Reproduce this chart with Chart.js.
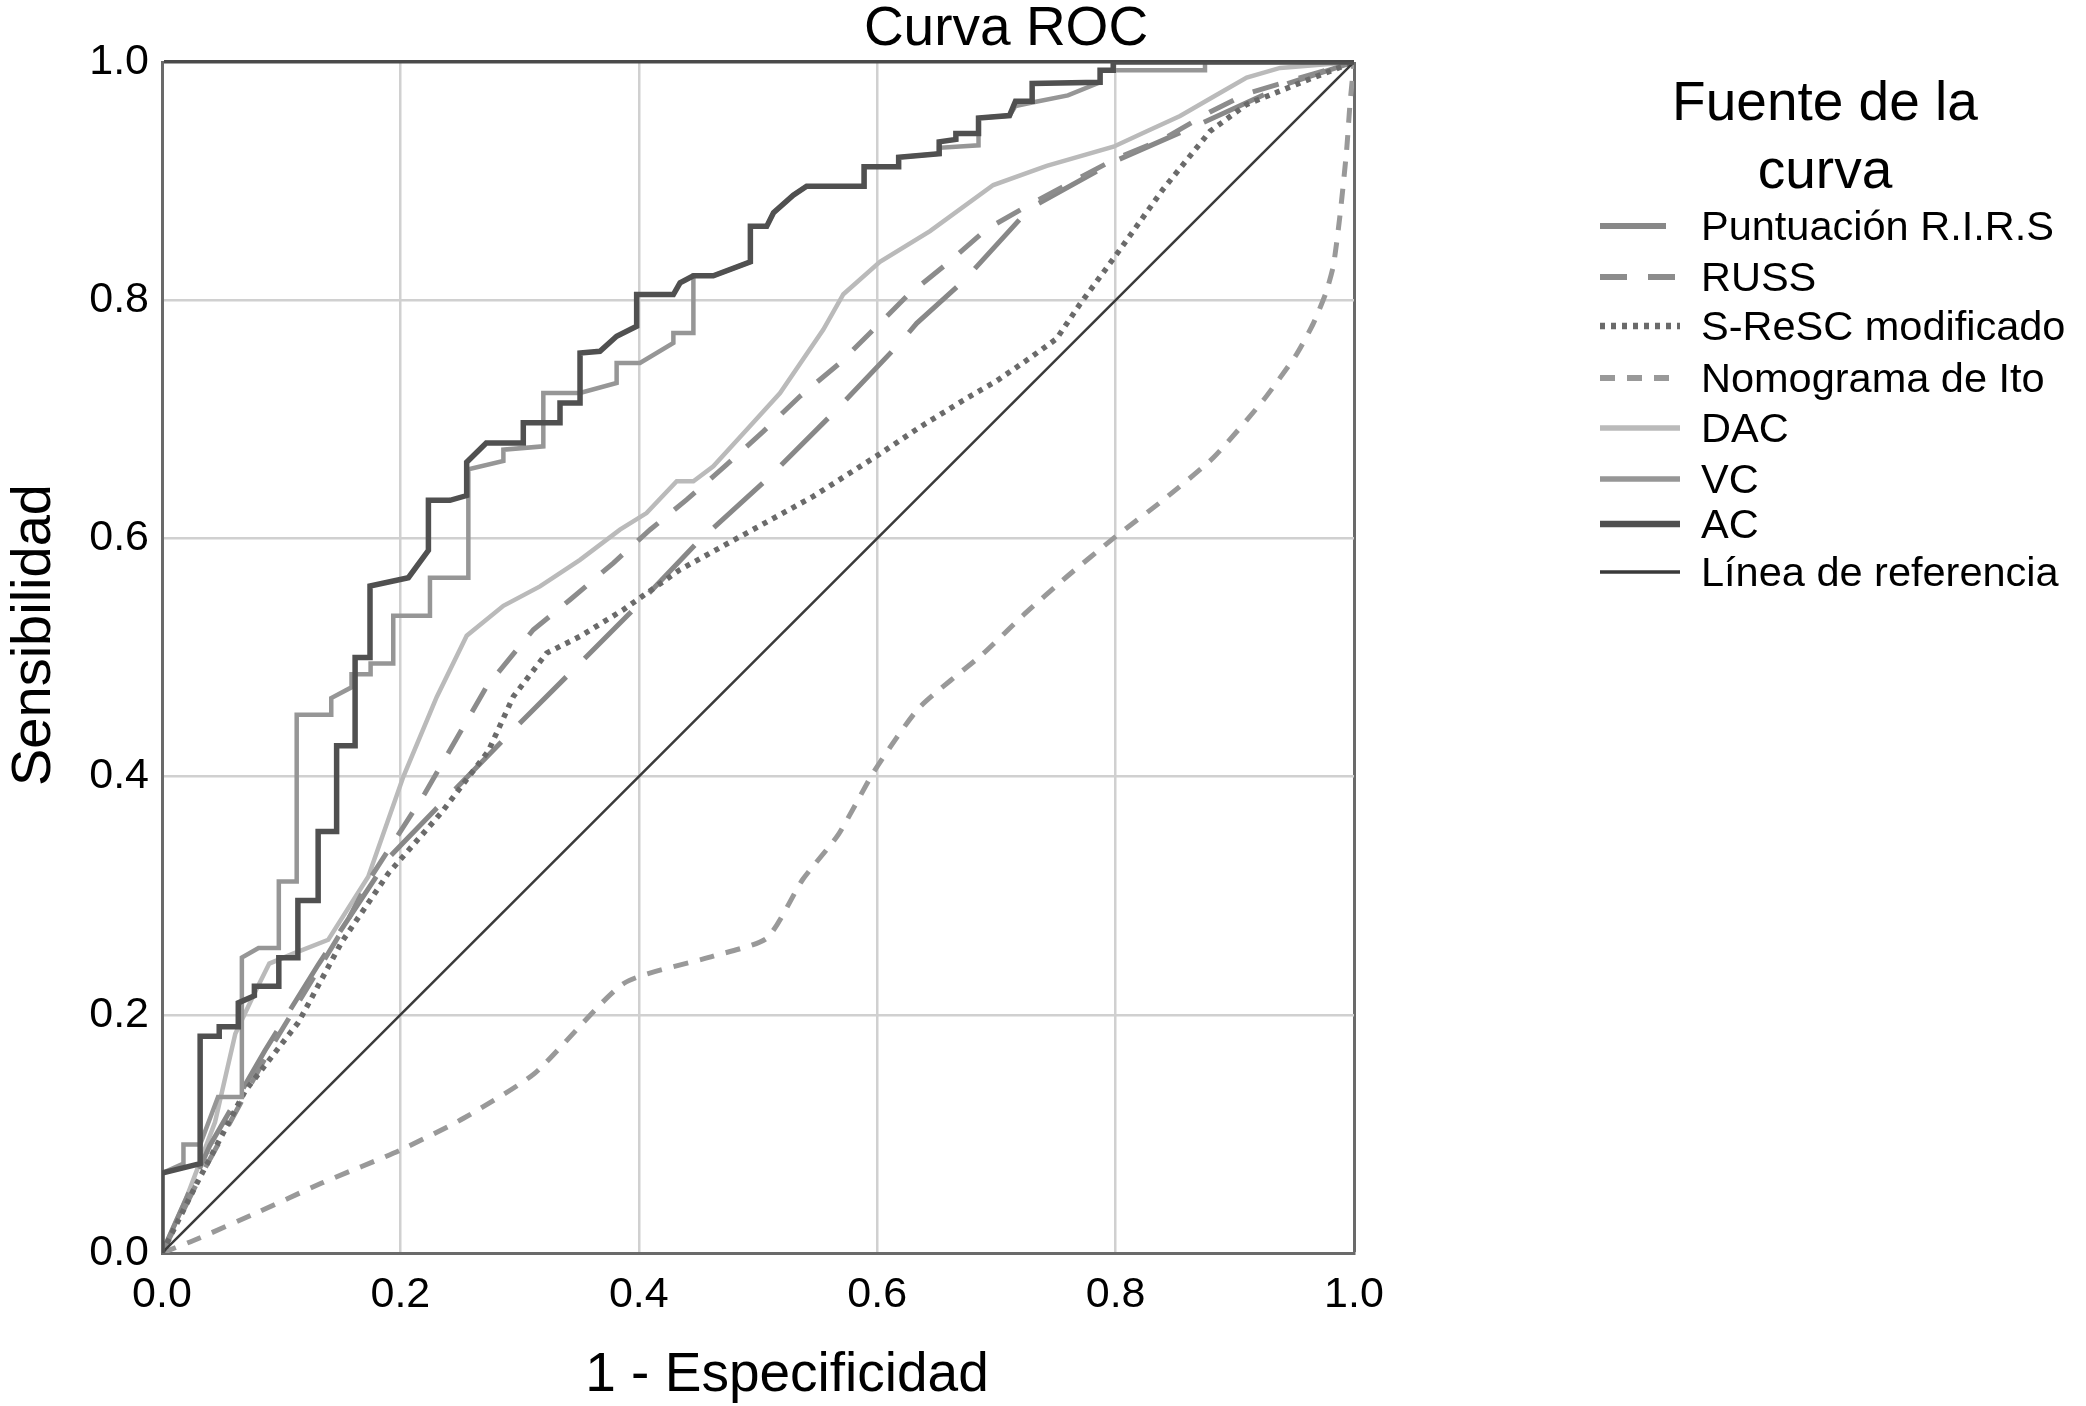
<!DOCTYPE html>
<html>
<head>
<meta charset="utf-8">
<title>Curva ROC</title>
<script src="https://cdn.jsdelivr.net/npm/chart.js@4.4.1/dist/chart.umd.min.js"></script>
<style>
  html, body { margin: 0; padding: 0; background: #fff; }
  #wrap { width: 2086px; height: 1406px; }
</style>
</head>
<body>
<div id="wrap"><canvas id="roc" width="2086" height="1406"></canvas></div>
<script>
// values (x = 1 - especificidad, y = sensibilidad)
const axisTicks = [0, 0.2, 0.4, 0.6, 0.8, 1.0];

const rirsX = [0, 0.04, 0.0864, 0.131, 0.19, 0.229, 0.2975, 0.3395, 0.3926, 0.4486, 0.5072, 0.5632, 0.6191, 0.6331, 0.6723, 0.7282, 0.80, 0.8708, 0.945, 1];
const rirsY = [0, 0.09, 0.17, 0.242, 0.3316, 0.372, 0.4421, 0.4841, 0.5373, 0.5961, 0.6493, 0.7053, 0.7641, 0.7806, 0.816, 0.8773, 0.917, 0.948, 0.982, 1];

const russX = [0, 0.03, 0.09, 0.153, 0.173, 0.2206, 0.2724, 0.3115, 0.3423, 0.3786, 0.4094, 0.4402, 0.4737, 0.5045, 0.5352, 0.5688, 0.594, 0.6247, 0.6583, 0.6918, 0.7282, 0.8009, 0.84, 0.8792, 0.9099, 0.966, 1];
const russY = [0, 0.06, 0.17, 0.274, 0.312, 0.386, 0.4757, 0.5233, 0.5485, 0.5793, 0.6073, 0.6325, 0.6619, 0.6899, 0.7193, 0.7473, 0.7725, 0.8032, 0.8305, 0.8596, 0.8805, 0.9193, 0.9353, 0.958, 0.9734, 0.99, 1];

const srescX = [0, 0.03, 0.0696, 0.1144, 0.1507, 0.1899, 0.2346, 0.2738, 0.2948, 0.3227, 0.3507, 0.387, 0.4345, 0.4905, 0.5464, 0.6023, 0.6359, 0.6723, 0.7002, 0.7282, 0.7505, 0.7701, 0.8009, 0.84, 0.8792, 0.9099, 0.9659, 1];
const srescY = [0, 0.06, 0.1358, 0.1936, 0.261, 0.3188, 0.37, 0.4215, 0.4673, 0.5037, 0.5177, 0.5401, 0.5737, 0.6045, 0.6353, 0.671, 0.6935, 0.716, 0.7322, 0.7515, 0.7677, 0.7967, 0.8386, 0.8934, 0.9418, 0.9644, 0.9869, 1];

const itoX = [0, 0.03, 0.08, 0.134, 0.2, 0.2526, 0.3126, 0.3876, 0.4625, 0.5075, 0.5375, 0.5675, 0.5975, 0.635, 0.689, 0.7225, 0.759, 0.7981, 0.84, 0.8819, 0.9239, 0.9519, 0.9659, 0.9765, 0.9827, 0.9882, 0.9938, 0.9966, 1];
const itoY = [0, 0.012, 0.034, 0.0587, 0.0864, 0.1129, 0.1508, 0.2265, 0.2492, 0.2644, 0.3136, 0.3515, 0.4045, 0.4576, 0.5033, 0.5355, 0.5678, 0.6, 0.6323, 0.6677, 0.716, 0.7548, 0.7806, 0.8064, 0.829, 0.8709, 0.9257, 0.9644, 1];

const dacX = [0, 0.02, 0.0445, 0.0615, 0.078, 0.09, 0.109, 0.1395, 0.173, 0.2025, 0.2304, 0.2556, 0.2864, 0.3171, 0.3507, 0.3842, 0.4065, 0.4318, 0.4458, 0.4625, 0.4905, 0.5185, 0.5548, 0.5716, 0.6023, 0.6443, 0.6974, 0.7422, 0.7982, 0.8262, 0.8541, 0.882, 0.91, 0.938, 1];
const dacY = [0, 0.045, 0.11, 0.184, 0.219, 0.243, 0.251, 0.263, 0.316, 0.40, 0.4667, 0.5183, 0.5434, 0.5597, 0.582, 0.6073, 0.6213, 0.648, 0.648, 0.6605, 0.6913, 0.7221, 0.7753, 0.805, 0.8322, 0.858, 0.8967, 0.9128, 0.9289, 0.9418, 0.9547, 0.9708, 0.987, 0.995, 1];

const vcX = [0, 0, 0.018, 0.018, 0.032, 0.047, 0.067, 0.067, 0.081, 0.098, 0.098, 0.113, 0.113, 0.142, 0.142, 0.159, 0.159, 0.175, 0.175, 0.194, 0.194, 0.2248, 0.2248, 0.257, 0.257, 0.2864, 0.2864, 0.3199, 0.3199, 0.3507, 0.3814, 0.3814, 0.401, 0.429, 0.429, 0.4458, 0.4458, 0.4625, 0.4936, 0.4936, 0.5073, 0.513, 0.5296, 0.5408, 0.589, 0.589, 0.618, 0.618, 0.652, 0.652, 0.685, 0.685, 0.711, 0.716, 0.73, 0.76, 0.787, 0.787, 0.875, 0.875, 1];
const vcY = [0, 0.067, 0.075, 0.091, 0.091, 0.131, 0.131, 0.248, 0.256, 0.256, 0.312, 0.312, 0.452, 0.452, 0.466, 0.475, 0.486, 0.486, 0.495, 0.495, 0.535, 0.535, 0.567, 0.567, 0.658, 0.665, 0.6745, 0.6773, 0.7221, 0.7221, 0.7305, 0.7473, 0.7473, 0.7641, 0.7725, 0.7725, 0.8205, 0.8205, 0.8322, 0.862, 0.862, 0.8734, 0.8882, 0.8957, 0.8957, 0.912, 0.912, 0.92, 0.923, 0.928, 0.93, 0.953, 0.955, 0.963, 0.966, 0.972, 0.983, 0.993, 0.993, 1, 1];

const acX = [0, 0, 0.032, 0.032, 0.048, 0.048, 0.064, 0.064, 0.0775, 0.0775, 0.098, 0.098, 0.114, 0.114, 0.131, 0.131, 0.1465, 0.1465, 0.162, 0.162, 0.1745, 0.1745, 0.2067, 0.2235, 0.2235, 0.2416, 0.2556, 0.2556, 0.272, 0.3031, 0.3031, 0.3339, 0.3339, 0.3507, 0.3507, 0.3674, 0.3814, 0.3982, 0.3982, 0.429, 0.4346, 0.4458, 0.4625, 0.4936, 0.4936, 0.5073, 0.513, 0.5296, 0.5408, 0.589, 0.589, 0.618, 0.618, 0.652, 0.652, 0.666, 0.666, 0.685, 0.685, 0.711, 0.716, 0.73, 0.73, 0.787, 0.787, 0.798, 0.798, 1];
const acY = [0, 0.067, 0.075, 0.182, 0.182, 0.19, 0.19, 0.21, 0.216, 0.224, 0.224, 0.248, 0.248, 0.296, 0.296, 0.354, 0.354, 0.426, 0.426, 0.50, 0.50, 0.56, 0.567, 0.59, 0.632, 0.632, 0.636, 0.664, 0.68, 0.68, 0.697, 0.697, 0.7137, 0.7137, 0.7557, 0.7571, 0.7697, 0.7781, 0.8047, 0.8047, 0.8146, 0.8205, 0.8205, 0.8322, 0.862, 0.862, 0.8734, 0.8882, 0.8957, 0.8957, 0.912, 0.912, 0.92, 0.923, 0.933, 0.935, 0.94, 0.94, 0.953, 0.955, 0.967, 0.967, 0.982, 0.983, 0.993, 0.993, 1, 1];

const refX = [0, 1];
const refY = [0, 1];

const fontFam = '"Liberation Sans", Arial, Helvetica, sans-serif';

function pts(xs, ys) {
    return xs.map(function (x, i) { return { x: x, y: ys[i] }; });
}

// chart title, axis titles and side legend drawn on the canvas
var sideLegend = {
    id: 'sideLegend',
    afterDraw: function (chart) {
        var ctx = chart.ctx;
        ctx.save();
        ctx.fillStyle = '#000';
        ctx.textBaseline = 'alphabetic';
        ctx.textAlign = 'center';
        ctx.font = '55px ' + fontFam;
        ctx.fillText('Curva ROC', 1006, 45);
        ctx.fillText('1 - Especificidad', 787, 1391);
        ctx.fillText('Fuente de la', 1825, 120);
        ctx.fillText('curva', 1825, 188);

        ctx.save();
        ctx.translate(50, 635);
        ctx.rotate(-Math.PI / 2);
        ctx.font = '56px ' + fontFam;
        ctx.fillText('Sensibilidad', 0, 0);
        ctx.restore();

        var rows = [240, 291, 340, 392, 442, 493, 538, 586];
        ctx.font = '41.5px ' + fontFam;
        ctx.textAlign = 'left';
        chart.data.datasets.forEach(function (ds, i) {
            var y = rows[i];
            ctx.strokeStyle = ds.borderColor;
            ctx.lineWidth = ds.borderWidth + 1;
            ctx.setLineDash(ds.borderDash || []);
            ctx.beginPath();
            ctx.moveTo(1600, y - 14);
            ctx.lineTo(1680, y - 14);
            ctx.stroke();
            ctx.setLineDash([]);
            ctx.fillText(ds.label, 1701, y);
        });
        ctx.restore();
    }
};

var whiteBg = {
    id: 'whiteBg',
    beforeDraw: function (chart) {
        var ctx = chart.ctx;
        ctx.save();
        ctx.fillStyle = '#fff';
        ctx.fillRect(0, 0, chart.width, chart.height);
        ctx.restore();
    }
};

document.addEventListener('DOMContentLoaded', function () {
    var ctx = document.getElementById('roc').getContext('2d');
    var myChart = new Chart(ctx, {
        type: 'line',
        data: {
            datasets: [{
                label: 'Puntuación R.I.R.S',
                data: pts(rirsX, rirsY),
                borderColor: '#888888',
                borderWidth: 5,
                borderDash: [66, 26],
                order: 6
            }, {
                label: 'RUSS',
                data: pts(russX, russY),
                borderColor: '#8c8c8c',
                borderWidth: 5,
                borderDash: [27, 21],
                order: 5
            }, {
                label: 'S-ReSC modificado',
                data: pts(srescX, srescY),
                borderColor: '#6a6a6a',
                borderWidth: 5.5,
                borderDash: [5, 6],
                order: 4
            }, {
                label: 'Nomograma de Ito',
                data: pts(itoX, itoY),
                borderColor: '#999999',
                borderWidth: 5,
                borderDash: [15, 12],
                tension: 0.2,
                order: 8
            }, {
                label: 'DAC',
                data: pts(dacX, dacY),
                borderColor: '#bababa',
                borderWidth: 4.5,
                order: 7
            }, {
                label: 'VC',
                data: pts(vcX, vcY),
                borderColor: '#969696',
                borderWidth: 4.5,
                order: 2
            }, {
                label: 'AC',
                data: pts(acX, acY),
                borderColor: '#505050',
                borderWidth: 5.5,
                order: 1
            }, {
                label: 'Línea de referencia',
                data: pts(refX, refY),
                borderColor: '#3a3a3a',
                borderWidth: 2.5,
                order: 3
            }]
        },
        options: {
            responsive: false,
            devicePixelRatio: 1,
            animation: false,
            elements: {
                point: { radius: 0 },
                line: { tension: 0, fill: false }
            },
            layout: { padding: { top: 62, right: 732, left: 0, bottom: 0 } },
            plugins: {
                legend: { display: false },
                title: { display: false },
                tooltip: { enabled: false }
            },
            scales: {
                x: {
                    type: 'linear',
                    min: 0,
                    max: 1,
                    afterFit: function (scale) { scale.height = 153; },
                    afterBuildTicks: function (scale) {
                        scale.ticks = axisTicks.map(function (v) { return { value: v }; });
                    },
                    ticks: {
                        padding: 16,
                        color: '#000',
                        font: { size: 43, family: fontFam },
                        maxRotation: 0,
                        callback: function (v) { return Number(v).toFixed(1); }
                    },
                    grid: {
                        drawTicks: false,
                        color: function (c) { return c.tick && c.tick.value === 1 ? '#6a6a6a' : '#d0d0d0'; },
                        lineWidth: function (c) { return c.tick && c.tick.value === 1 ? 3 : 2.5; }
                    },
                    border: { color: '#6a6a6a', width: 3 },
                    title: { display: false }
                },
                y: {
                    type: 'linear',
                    min: 0,
                    max: 1,
                    afterFit: function (scale) { scale.width = 162; },
                    afterBuildTicks: function (scale) {
                        scale.ticks = axisTicks.map(function (v) { return { value: v }; });
                    },
                    ticks: {
                        padding: 13,
                        color: '#000',
                        font: { size: 43, family: fontFam },
                        callback: function (v) { return Number(v).toFixed(1); }
                    },
                    grid: {
                        drawTicks: false,
                        color: function (c) { return c.tick && c.tick.value === 1 ? '#4a4a4a' : '#d0d0d0'; },
                        lineWidth: function (c) { return c.tick && c.tick.value === 1 ? 3.5 : 2.5; }
                    },
                    border: { color: '#6a6a6a', width: 3 },
                    title: { display: false }
                }
            }
        },
        plugins: [whiteBg, sideLegend]
    });
});
</script>
</body>
</html>
